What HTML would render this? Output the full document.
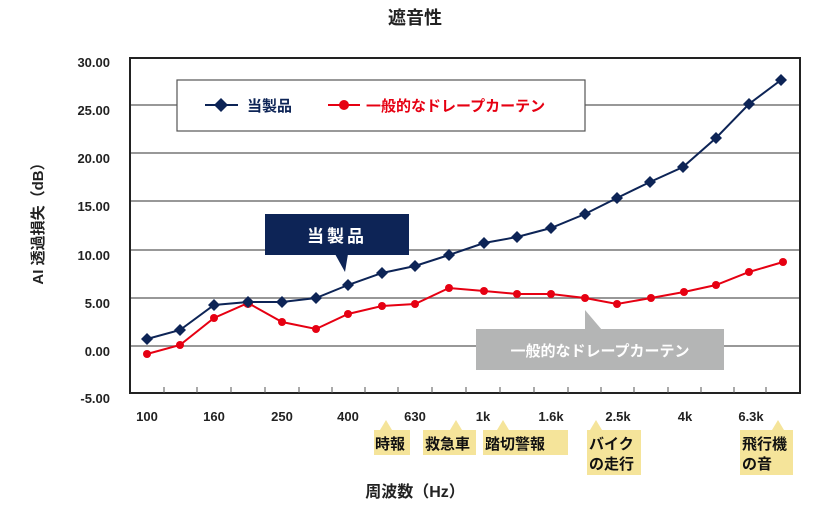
<!DOCTYPE html>
<html><head><meta charset="utf-8"><style>
body{margin:0;background:#fff;}
svg{display:block;font-family:"Liberation Sans","Noto Sans CJK JP",sans-serif;font-weight:bold;}
</style></head><body>
<svg width="830" height="505" viewBox="0 0 830 505" xmlns="http://www.w3.org/2000/svg">
<text x="415" y="24" font-size="18" text-anchor="middle" fill="#222">遮音性</text>
<g stroke="#777" stroke-width="1.5">
<line x1="130" y1="105" x2="800" y2="105"/><line x1="130" y1="153" x2="800" y2="153"/>
<line x1="130" y1="201" x2="800" y2="201"/><line x1="130" y1="250" x2="800" y2="250"/>
<line x1="130" y1="298" x2="800" y2="298"/><line x1="130" y1="346" x2="800" y2="346"/>
</g>
<rect x="130" y="58" width="670" height="335" fill="none" stroke="#222" stroke-width="2"/>
<g stroke="#555" stroke-width="1">
<line x1="164" y1="393" x2="164" y2="387"/><line x1="197" y1="393" x2="197" y2="387"/><line x1="231" y1="393" x2="231" y2="387"/><line x1="265" y1="393" x2="265" y2="387"/><line x1="299" y1="393" x2="299" y2="387"/><line x1="332" y1="393" x2="332" y2="387"/><line x1="365" y1="393" x2="365" y2="387"/><line x1="398" y1="393" x2="398" y2="387"/><line x1="432" y1="393" x2="432" y2="387"/><line x1="466" y1="393" x2="466" y2="387"/><line x1="500" y1="393" x2="500" y2="387"/><line x1="534" y1="393" x2="534" y2="387"/><line x1="568" y1="393" x2="568" y2="387"/><line x1="601" y1="393" x2="601" y2="387"/><line x1="634" y1="393" x2="634" y2="387"/><line x1="668" y1="393" x2="668" y2="387"/><line x1="701" y1="393" x2="701" y2="387"/><line x1="734" y1="393" x2="734" y2="387"/><line x1="766" y1="393" x2="766" y2="387"/>
</g>
<g font-size="13" fill="#222" text-anchor="end">
<text x="110" y="67">30.00</text><text x="110" y="115">25.00</text><text x="110" y="163">20.00</text><text x="110" y="211">15.00</text><text x="110" y="260">10.00</text><text x="110" y="308">5.00</text><text x="110" y="356">0.00</text><text x="110" y="403">-5.00</text>
</g>
<text transform="translate(43,220) rotate(-90)" font-size="15" fill="#222" text-anchor="middle">AI 透過損失（dB）</text>
<g font-size="13" fill="#222" text-anchor="middle">
<text x="147" y="421">100</text><text x="214" y="421">160</text><text x="282" y="421">250</text><text x="348" y="421">400</text><text x="415" y="421">630</text><text x="483" y="421">1k</text><text x="551" y="421">1.6k</text><text x="618" y="421">2.5k</text><text x="685" y="421">4k</text><text x="751" y="421">6.3k</text>
</g>
<text x="415" y="497" font-size="16" fill="#222" text-anchor="middle">周波数（Hz）</text>
<g fill="#f5e49a">
<rect x="374" y="430" width="36" height="25"/><polygon points="380,430 386,420 392,430"/>
<rect x="423" y="430" width="53" height="25"/><polygon points="450,430 456,420 462,430"/>
<rect x="483" y="430" width="85" height="25"/><polygon points="497,430 503,420 509,430"/>
<rect x="587" y="430" width="54" height="45"/><polygon points="590,430 596,420 602,430"/>
<rect x="740" y="430" width="53" height="45"/><polygon points="772,430 778,420 784,430"/>
</g>
<g font-size="15" fill="#111">
<text x="375" y="449">時報</text><text x="425" y="449">救急車</text><text x="485" y="449">踏切警報</text>
<text x="589" y="449">バイク</text><text x="589" y="469">の走行</text>
<text x="742" y="449">飛行機</text><text x="742" y="469">の音</text>
</g>
<rect x="177" y="80" width="408" height="51" fill="#fff" stroke="#555" stroke-width="1.2"/>
<line x1="205" y1="105" x2="238" y2="105" stroke="#0d2456" stroke-width="2"/>
<polygon points="221,98 228,105 221,112 214,105" fill="#0d2456"/>
<text x="247" y="111" font-size="15" fill="#0d2456">当製品</text>
<line x1="328" y1="105" x2="360" y2="105" stroke="#e60012" stroke-width="2"/>
<circle cx="344" cy="105" r="5" fill="#e60012"/>
<text x="366" y="111" font-size="15" fill="#e60012">一般的なドレープカーテン</text>
<rect x="265" y="214" width="144" height="41" fill="#0d2456"/>
<polygon points="335,254 348,254 345,272" fill="#0d2456"/>
<text x="337" y="242" font-size="17" fill="#fff" text-anchor="middle" letter-spacing="3">当製品</text>
<rect x="476" y="329" width="248" height="41" fill="#b4b5b5"/>
<polygon points="585,310 585,330 602,330" fill="#b4b5b5"/>
<text x="600" y="356" font-size="15" fill="#fff" text-anchor="middle">一般的なドレープカーテン</text>
<polyline fill="none" stroke="#e60012" stroke-width="2" points="147,354 180,345 214,318 248,303 282,322 316,329 348,314 382,306 415,304 449,288 484,291 517,294 551,294 585,298 617,304 651,298 684,292 716,285 749,272 783,262"/>
<g fill="#e60012">
<circle cx="147" cy="354" r="4"/><circle cx="180" cy="345" r="4"/><circle cx="214" cy="318" r="4"/><circle cx="248" cy="303" r="5"/><circle cx="282" cy="322" r="4"/><circle cx="316" cy="329" r="4"/><circle cx="348" cy="314" r="4"/><circle cx="382" cy="306" r="4"/><circle cx="415" cy="304" r="4"/><circle cx="449" cy="288" r="4"/><circle cx="484" cy="291" r="4"/><circle cx="517" cy="294" r="4"/><circle cx="551" cy="294" r="4"/><circle cx="585" cy="298" r="4"/><circle cx="617" cy="304" r="4"/><circle cx="651" cy="298" r="4"/><circle cx="684" cy="292" r="4"/><circle cx="716" cy="285" r="4"/><circle cx="749" cy="272" r="4"/><circle cx="783" cy="262" r="4"/>
</g>
<polyline fill="none" stroke="#0d2456" stroke-width="2" points="147,339 180,330 214,305 248,302 282,302 316,298 348,285 382,273 415,266 449,255 484,243 517,237 551,228 585,214 617,198 650,182 683,167 716,138 749,104 781,80"/>
<g fill="#0d2456">
<polygon points="147,333 153,339 147,345 141,339"/><polygon points="180,324 186,330 180,336 174,330"/><polygon points="214,299 220,305 214,311 208,305"/><polygon points="248,296 254,302 248,308 242,302"/><polygon points="282,296 288,302 282,308 276,302"/><polygon points="316,292 322,298 316,304 310,298"/><polygon points="348,279 354,285 348,291 342,285"/><polygon points="382,267 388,273 382,279 376,273"/><polygon points="415,260 421,266 415,272 409,266"/><polygon points="449,249 455,255 449,261 443,255"/><polygon points="484,237 490,243 484,249 478,243"/><polygon points="517,231 523,237 517,243 511,237"/><polygon points="551,222 557,228 551,234 545,228"/><polygon points="585,208 591,214 585,220 579,214"/><polygon points="617,192 623,198 617,204 611,198"/><polygon points="650,176 656,182 650,188 644,182"/><polygon points="683,161 689,167 683,173 677,167"/><polygon points="716,132 722,138 716,144 710,138"/><polygon points="749,98 755,104 749,110 743,104"/><polygon points="781,74 787,80 781,86 775,80"/>
</g>
</svg>
</body></html>
